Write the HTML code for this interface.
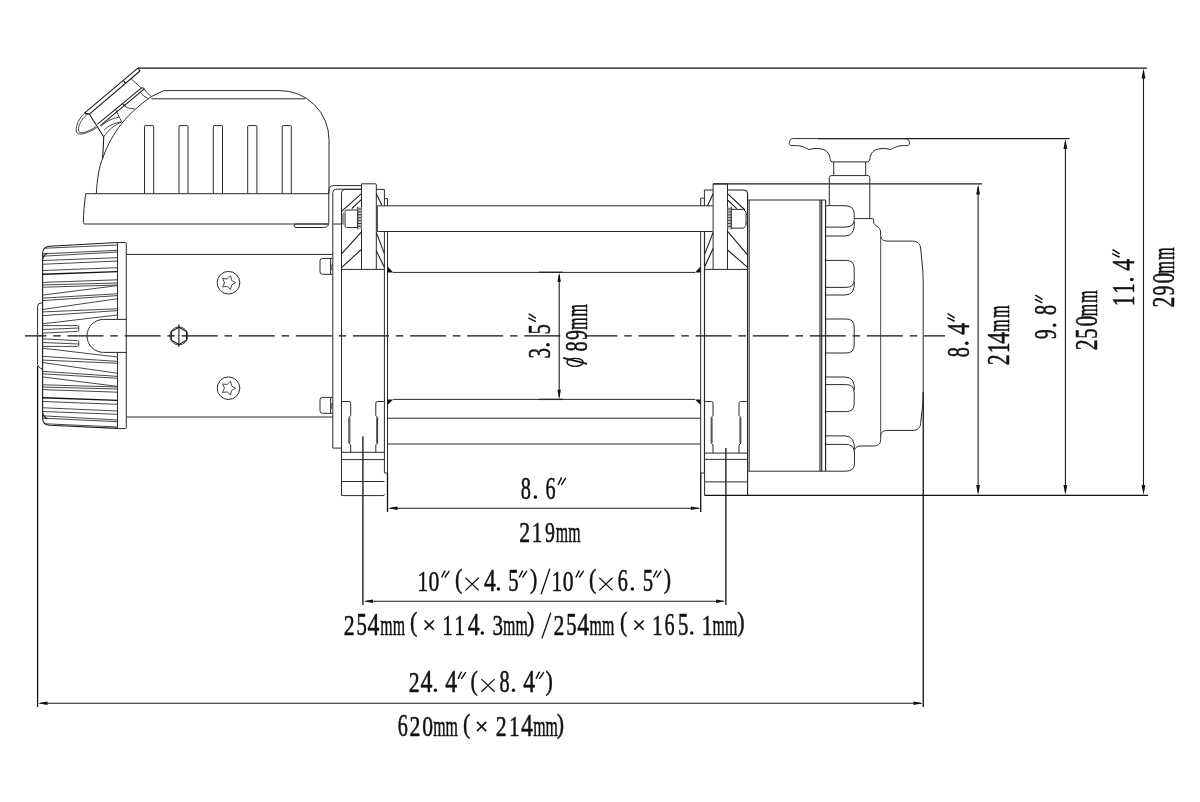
<!DOCTYPE html>
<html><head><meta charset="utf-8"><title>Winch dimensions</title>
<style>
html,body{margin:0;padding:0;background:#fff;}
body{width:1200px;height:802px;overflow:hidden;font-family:"Liberation Serif",serif;}
svg{display:block;position:absolute;left:0;top:0;}
.l{fill:none;stroke:#2a2a2a;stroke-width:1;}
.m{fill:none;stroke:#333;stroke-width:0.9;}
.k{fill:none;stroke:#111;stroke-width:1.3;}
.d{fill:none;stroke:#1c1c1c;stroke-width:1.1;}
.c{fill:none;stroke:#111;stroke-width:1.25;stroke-dasharray:36 6.8 7.5 6.8;}
.f{fill:#111;stroke:none;}
.g{fill:#999;stroke:none;}
.g2{fill:#c4c4c4;stroke:none;}
.w{fill:#fff;stroke:#2a2a2a;stroke-width:1;}
.t{font-family:"Liberation Serif",serif;font-size:30.5px;fill:#111;text-anchor:middle;stroke:#111;stroke-width:0.45px;vector-effect:non-scaling-stroke;paint-order:stroke fill;stroke-linejoin:round;}
.tp{fill:none;stroke:#111;stroke-width:1.45;stroke-linecap:round;}
.tk{fill:none;stroke:#111;stroke-width:1.35;}
.tx{fill:none;stroke:#111;stroke-width:1.3;}
.txs{fill:none;stroke:#111;stroke-width:1.7;}
</style></head>
<body>
<svg width="1200" height="802" viewBox="0 0 1200 802">
<rect x="0" y="0" width="1200" height="802" fill="#ffffff"/>
<g id="drawing">
<path class="k" d="M137.8,68.1L1147,68.1"/>
<path class="k" d="M704.6,495.4L1148,495.4"/>
<path class="d" d="M818,138.6L1069.5,138.6"/>
<path class="d" d="M713,183.9L982,183.9"/>
<path class="d" d="M1143.5,71.1L1143.5,492"/>
<path class="f" d="M1143.50,68.60L1141.60,78.60L1145.40,78.60Z"/>
<path class="f" d="M1143.50,495.00L1141.60,485.00L1145.40,485.00Z"/>
<path class="d" d="M1065.4,141.6L1065.4,492"/>
<path class="f" d="M1065.40,139.10L1063.50,149.10L1067.30,149.10Z"/>
<path class="f" d="M1065.40,495.00L1063.50,485.00L1067.30,485.00Z"/>
<path class="d" d="M978.1,186.9L978.1,492"/>
<path class="f" d="M978.10,184.40L976.20,194.40L980.00,194.40Z"/>
<path class="f" d="M978.10,495.00L976.20,485.00L980.00,485.00Z"/>
<path class="d" d="M559.2,275L559.2,397"/>
<path class="f" d="M559.20,272.60L557.50,282.10L560.90,282.10Z"/>
<path class="f" d="M559.20,399.20L557.50,389.70L560.90,389.70Z"/>
<path class="k" d="M539,272.3L563,272.3"/>
<path class="k" d="M539,399.4L563,399.4"/>
<path class="d" d="M390,508.2L699,508.2"/>
<path class="f" d="M388.00,508.20L397.50,506.50L397.50,509.90Z"/>
<path class="f" d="M700.30,508.20L690.80,506.50L690.80,509.90Z"/>
<path class="d" d="M366,601.2L723,601.2"/>
<path class="f" d="M363.40,601.20L372.90,599.50L372.90,602.90Z"/>
<path class="f" d="M725.60,601.20L716.10,599.50L716.10,602.90Z"/>
<path class="d" d="M40,703.3L921,703.3"/>
<path class="f" d="M38.00,703.30L47.50,701.60L47.50,705.00Z"/>
<path class="f" d="M923.00,703.30L913.50,701.60L913.50,705.00Z"/>
<path class="k" d="M37.6,366L37.6,707"/>
<path class="k" d="M923.25,392L923.25,707"/>
<path class="k" d="M362.9,436.3L362.9,605"/>
<path class="k" d="M725.9,448L725.9,605"/>
<path class="k" d="M387.5,473L387.5,512"/>
<path class="k" d="M700.7,473L700.7,512"/>
<path class="c" stroke-dashoffset="14.60" d="M25,335.9H560.5"/>
<path class="c" stroke-dashoffset="3.10" d="M584.5,335.9H945"/>
<path class="l" d="M96.3,193.7C97,180 99,167 102.5,158.7C106,149 111,138 118.7,127.5C127,116 138,106 151.3,96.6L163.7,90.6H280A49,49 0 0 1 329,139.6V193.7"/>
<path class="l" d="M151.3,98.8H305"/>
<path class="l" d="M144.5,193.7V126.3Q144.5,125.6 145.2,125.6H153.0Q153.7,125.6 153.7,126.3V193.7"/>
<path class="l" d="M179,193.7V126.3Q179,125.6 179.7,125.6H187.3Q188,125.6 188,126.3V193.7"/>
<path class="l" d="M213.3,193.7V126.3Q213.3,125.6 214.0,125.6H221.8Q222.5,125.6 222.5,126.3V193.7"/>
<path class="l" d="M247.7,193.7V126.3Q247.7,125.6 248.39999999999998,125.6H256.2Q256.9,125.6 256.9,126.3V193.7"/>
<path class="l" d="M282.2,193.7V126.3Q282.2,125.6 282.9,125.6H290.6Q291.3,125.6 291.3,126.3V193.7"/>
<path class="l" d="M85.7,193.7H329M85.7,193.7C84.3,203 83.5,214 83.3,222.7Q83.4,224 84.8,224H328.7"/>
<path class="d" d="M137.8,68.1L84.4,113.1M140,71L89.4,114.1M137.8,68.1L140,71M123.7,80.5L125.3,83.3M84.4,113.1L89.4,114.1"/>
<path class="m" d="M131.2,78.8L141.5,88.2"/>
<path class="d" d="M89.1,113.8L103.7,136.8C103.5,145 103,152 102.5,158.7"/>
<path class="m" d="M84.5,113.2C79.5,117.5 75.8,125 76.2,131C76.8,137 88,133.5 96.9,127.5"/>
<path class="m" d="M86.3,115.2C81.5,119 78,126 78.4,130.5C79.2,135.3 88.5,131.8 96.4,126.4M84.5,113.2Q86,116 89.1,113.8"/>
<path class="d" d="M141.5,87.8L97.5,124.2"/>
<path class="d" d="M141.5,87.8Q143.3,87.3 144.3,89L100.3,125.6"/>
<path class="m" d="M144.3,89Q146,92.5 151.3,96.6"/>
<path class="m" d="M139.8,91.8Q143,96.5 148.5,98.6M122.3,103.8Q126,109 134.5,108.8M115.5,109L121.6,121.9M122.2,103.7L125.6,105.4"/>
<path class="m" d="M101.4,125.9Q108,119.3 118.6,117.2M104.2,129.8Q111,123.3 121.6,121.9M121.6,121.9Q110,127 103.7,136.8"/>
<path class="l" d="M361.5,185.6H334Q328.8,185.6 328.8,191V222.5Q328.8,227.5 323.5,227.5H296Q294.2,227.5 294.2,225.7Q294.2,224 296,224H328.7"/>
<path class="l" d="M361.5,189.2H336Q332.8,189.2 332.8,192.5V448.1H341.5"/>
<path class="l" d="M332.8,224H341.5"/>
<path class="d" d="M117.5,242.5L49.5,246.2Q42.6,246.8 42.6,253.5V418.5Q42.6,424.6 49.5,425.2L117.5,428.4"/>
<path class="l" d="M117.5,242.5H125.3Q126.3,242.5 126.3,243.5V427.6Q126.3,428.6 125.3,428.6H117.5M117.5,242.5V319.4M117.5,352.4V428.6"/>
<path class="l" d="M126.3,319.4H103.5A16.5,16.5 0 0 0 103.5,352.4H126.3"/>
<path class="l" d="M42.6,303H41Q37.6,303 37.6,306.5V364Q38,368 42.6,368.8"/>
<clipPath id="kc"><path d="M117.5,242.5L49.5,246.2Q42.6,246.8 42.6,253.5V418.5Q42.6,424.6 49.5,425.2L117.5,428.4Z"/></clipPath>
<g clip-path="url(#kc)">
<path class="m" d="M43,248.3L117.5,245"/>
<path class="m" d="M43,423.7L117.5,427.0"/>
<path class="m" d="M43,253.8L117.5,250.3"/>
<path class="m" d="M43,418.2L117.5,421.7"/>
<path class="m" d="M43,256.2L117.5,252"/>
<path class="m" d="M43,415.8L117.5,420.0"/>
<path class="m" d="M43,260.5L117.5,257.7"/>
<path class="m" d="M43,411.5L117.5,414.3"/>
<path class="m" d="M43,264.25L117.5,261"/>
<path class="m" d="M43,407.75L117.5,411.0"/>
<path class="m" d="M43,270.5L117.5,267.7"/>
<path class="m" d="M43,401.5L117.5,404.3"/>
<path class="m" d="M43,282.4L117.5,279.8"/>
<path class="m" d="M43,389.6L117.5,392.2"/>
<path class="m" d="M43,284.9L117.5,283"/>
<path class="m" d="M43,387.1L117.5,389.0"/>
<path class="m" d="M43,287.2L117.5,285"/>
<path class="m" d="M43,384.8L117.5,387.0"/>
<path class="m" d="M43,295L117.5,285.6"/>
<path class="m" d="M43,377.0L117.5,386.4"/>
<path class="m" d="M43,298.1L117.5,293.75"/>
<path class="m" d="M43,373.9L117.5,378.25"/>
<path class="m" d="M43,300.6L117.5,295.6"/>
<path class="m" d="M43,371.4L117.5,376.4"/>
<path class="m" d="M43,309.4L117.5,298.75"/>
<path class="m" d="M43,362.6L117.5,373.25"/>
<path class="m" d="M43,311.9L117.5,308.75"/>
<path class="m" d="M43,360.1L117.5,363.25"/>
<path class="m" d="M43,315.6L117.5,310.6"/>
<path class="m" d="M43,356.4L117.5,361.4"/>
<path class="m" d="M43,323.75L117.5,315"/>
<path class="m" d="M43,348.25L117.5,357.0"/>
<path class="k" d="M43,274.25L117.5,271.6"/>
<path class="k" d="M43,397.75L117.5,400.4"/>
<path class="d" d="M42.6,259.3Q43.5,254.5 47.5,253.4M42.6,412.7Q43.5,417.5 47.5,418.6"/>
</g>
<path class="m" d="M43,325.6H77.5Q78.8,325.6 78.8,327V330Q78.8,331.3 77.5,331.4L43,333.1M43,329.5L78.8,328"/>
<path class="m" d="M43,346.4H77.5Q78.8,346.4 78.8,345V342Q78.8,340.7 77.5,340.6L43,338.9M43,342.5L78.8,344"/>
<path class="l" d="M126.3,254.4H332.8M126.3,417H332.8"/>
<circle class="l" cx="228.5" cy="282.7" r="11.3"/>
<path class="m" d="M235.60,282.70L231.56,284.99L230.62,289.55L227.19,286.41L222.58,286.93L224.50,282.70L222.58,278.47L227.19,278.99L230.62,275.85L231.56,280.41Z"/>
<circle class="l" cx="228.5" cy="388.2" r="11.3"/>
<path class="m" d="M235.60,388.20L231.56,390.49L230.62,395.05L227.19,391.91L222.58,392.43L224.50,388.20L222.58,383.97L227.19,384.49L230.62,381.35L231.56,385.91Z"/>
<circle class="m" cx="178.9" cy="335.9" r="9"/>
<path class="d" d="M178.90,344.60L171.37,340.25L171.37,331.55L178.90,327.20L186.43,331.55L186.43,340.25Z"/>
<path class="d" d="M178.9,324.3L178.9,347.1"/>
<path class="l" d="M332.8,258.4H322.5Q320,258.4 320,260.9V271.79999999999995Q320,274.29999999999995 322.5,274.29999999999995H332.8M330.6,258.4V274.29999999999995"/>
<path class="m" d="M330.8,267.4L332.6,263.4M330.8,270.4L332.6,266.4"/>
<path class="l" d="M332.8,397.4H322.5Q320,397.4 320,399.9V410.79999999999995Q320,413.29999999999995 322.5,413.29999999999995H332.8M330.6,397.4V413.29999999999995"/>
<path class="m" d="M330.8,406.4L332.6,402.4M330.8,409.4L332.6,405.4"/>
<path class="l" d="M341.5,495.6V193.5Q341.7,189.4 345.5,189.4H361.5"/>
<path class="l" d="M361.5,269.4V183.8H375.3Q376.3,183.8 376.3,184.8V269.4"/>
<path class="l" d="M376.3,189.4H384.4V205.7M384.4,198.7H387.5V205.7"/>
<path class="l" d="M384.4,231.5V473H387.5M387.5,231.5V473"/>
<path class="l" d="M341.5,269.4H384.4"/>
<path class="d" d="M341.8,211.2L361.5,193.7M351.8,208.7L361.5,199.3M341.8,253.6L361.5,231.8M341.8,267.3L361.5,249.3"/>
<path class="d" d="M376.3,193.7L381.8,205M376.3,232.4L384.4,253.6M376.3,251.1L384.4,267.3"/>
<rect class="g2" x="357.6" y="206.8" width="3.9" height="22.5"/>
<path class="m" d="M357.6,206.8V229.3"/>
<path class="m" d="M357.8,209.0H361.3M357.8,211.9H361.3M357.8,214.8H361.3M357.8,217.7H361.3M357.8,220.6H361.3M357.8,223.5H361.3M357.8,226.4H361.3"/>
<rect class="w" x="345" y="210" width="12.6" height="17.6" rx="1.5"/>
<path class="g" d="M342,213.5L345,211.5V226L342,224Z"/>
<path class="f" d="M387.5,266.2V272.4H393.2Z"/>
<path class="f" d="M387.5,405V399.4H393.2Z"/>
<path class="f" d="M700.7,266.2V272.4H695Z"/>
<path class="f" d="M700.7,405V399.4H695Z"/>
<path class="l" d="M341.5,401.5H349.2Q350.7,401.5 350.7,403V415.5L348.9,417.5V443L350.7,445V452.3"/>
<path class="l" d="M384.4,401.5H377.3Q375.8,401.5 375.8,403V415.5L377.6,417.5V443L375.8,445V452.3"/>
<path class="m" d="M349.9,417.5V443M376.7,417.5V443"/>
<path class="l" d="M341.5,452.3H384.4M341.5,459.6H384.4M341.5,481.5H384.4M341.5,494.3Q341.5,495.6 342.8,495.6H383.1Q384.4,495.6 384.4,494.3"/>
<path class="l" d="M377.3,205.8H712.6M377.3,231.5H712.6M377.3,205.8V231.5"/>
<path class="l" d="M387.5,418.2H700.7M387.5,444H700.7"/>
<path class="l" d="M393.2,272.4H695M393.2,399.4H695"/>
<path class="l" d="M713.1,269.4V183.9H727.5V269.4"/>
<path class="l" d="M713.1,190H704.4V206M704.4,198.1H700.7V206"/>
<path class="l" d="M700.7,231.5V473M704.4,231.5V473H700.7"/>
<path class="d" d="M727.5,190H743.5Q747.6,190 747.6,194V495.4"/>
<path class="l" d="M747.6,200H825.6M749.2,200V471.2"/>
<path class="l" d="M704.4,269.4H747.6"/>
<path class="d" d="M727.5,193.7L745,210M727.5,200L736.8,208.7M727.5,231.3L747.6,254.9M727.5,250L747.6,267.3"/>
<path class="d" d="M707.5,205.8L713.1,193.7M704.4,254.9L713.1,232.4M704.4,267.3L713.1,248.6"/>
<rect class="g2" x="727.7" y="206.8" width="3.9" height="22.5"/>
<path class="m" d="M731.6,206.8V229.3"/>
<path class="m" d="M727.9,209.0H731.4M727.9,211.9H731.4M727.9,214.8H731.4M727.9,217.7H731.4M727.9,220.6H731.4M727.9,223.5H731.4M727.9,226.4H731.4"/>
<path class="w" d="M731.3,209.4H743.5L746,212V225.5L743.5,228.1H731.3Z"/>
<path class="m" d="M746,214.5H747.6M746,223H747.6"/>
<path class="l" d="M704.4,401.6H711.5Q713,401.6 713,403.1V415.5L711.2,417.5V443L713,445V453.1"/>
<path class="l" d="M747.6,401.6H740.5Q739,401.6 739,403.1V415.5L740.8,417.5V443L739,445V453.1"/>
<path class="m" d="M712.1,417.5V443M739.9,417.5V443"/>
<path class="l" d="M704.6,495.4V231.5"/>
<path class="l" d="M704.6,453.1H747.6M704.6,459.4H747.6M704.6,481.9H747.6"/>
<path class="l" d="M748.3,471.2H825.5"/>
<path class="d" d="M820,200V471.2M821.7,200V471.2M825.6,200V471.2"/>
<path class="l" d="M825.6,205.7H845Q854.2,205.7 854.2,214V219.5Q854.2,227.1 845,227.1H825.6"/>
<path class="l" d="M854.4,222Q855,236 845,236H825.6"/>
<path class="l" d="M825.6,260.4H846.2Q854.2,260.4 854.2,268.4V279.4Q854.2,287.4 846.2,287.4H825.6"/>
<path class="l" d="M854.4,282Q855,295 845,295H825.6"/>
<path class="l" d="M825.6,319H846.2Q854.2,319 854.2,327V345Q854.2,353 846.2,353H825.6"/>
<path class="l" d="M825.6,384.6H846.2Q854.2,384.6 854.2,392.6V403.6Q854.2,411.6 846.2,411.6H825.6"/>
<path class="l" d="M854.4,390Q855,377 845,377H825.6"/>
<path class="l" d="M825.6,444.4H846Q854.5,444.4 854.5,453V463Q854.5,471.2 846,471.2H825.6"/>
<path class="l" d="M854.4,450Q855,435.9 845,435.9H825.6"/>
<path class="l" d="M854.4,218.6H872.5Q873.7,218.6 873.7,219.8V222C873.7,226.5 880.4,226 880.6,232V235.4C880.8,239.5 883.5,241.1 888,241.1H912.5C917.5,241.1 920.2,244 920.6,248L922.6,268C923,274 923.2,280 923.2,288V390C923.2,396 923,401 922.6,406L920.6,423.5C920.2,428 917.5,430.4 913,430.4H888C883.5,430.4 880.8,432 880.7,436V439.5C880.5,444 878,446 873.5,446H861C857.5,446 855.5,447.5 854.1,450.2"/>
<path class="m" d="M880.7,236.5V435.5"/>
<path class="l" d="M829.3,205.7V177.5Q829.3,175.6 831.2,175.6H867.9Q869.8,175.6 869.8,177.5V218.7"/>
<path class="l" d="M833.7,175.6V161.9M865.7,175.6V161.9"/>
<path class="l" d="M792.5,138.6H906.2C909.2,139 909.8,142.5 909.3,144.5Q908.8,145.8 907,145.7C900,145 896,146.5 890.6,149.6C886,148 880,148 875,150C871.5,152 870.4,155.5 869.9,158.5Q869.7,161.9 867.5,161.9H832.3Q830.3,161.9 830,158.5C829.5,155.5 828.5,152 825,150C820,148 814,148 808.8,149.6C803.5,146.5 799,145 791.5,145.7Q790,145.8 789.5,144.5C789,142.5 789.5,139 792.5,138.6Z"/>
</g>
<g id="labels" style="opacity:0.999">
<g aria-label="8.6″" transform="translate(0,498.8) scale(1,1.06)">
<text class="t" transform="translate(525.70,0) scale(0.665,1)">8</text>
<circle class="f" cx="535.40" cy="-1.7" r="1.75"/>
<text class="t" transform="translate(550.60,0) scale(0.66,1)">6</text>
<path class="tp" d="M561.40,-19.7L558.30,-13.6M565.50,-19.3L561.70,-13.6"/>
</g>
<g aria-label="219mm" transform="translate(0,541.8) scale(1,1.0)">
<text class="t" transform="translate(524.70,0) scale(0.715,1)">2</text>
<text class="t" transform="translate(537.20,0) scale(0.7,1)">1</text>
<text class="t" transform="translate(550.10,0) scale(0.655,1)">9</text>
<text class="t" transform="translate(561.80,0) scale(0.52,1)">m</text>
<text class="t" transform="translate(574.30,0) scale(0.52,1)">m</text>
</g>
<g aria-label="10″(×4.5″)/10″(×6.5″)" transform="translate(0,590.6) scale(1,1.0)">
<text class="t" transform="translate(422.80,0) scale(0.7,1)">1</text>
<text class="t" transform="translate(433.90,0) scale(0.71,1)">0</text>
<path class="tp" d="M444.90,-19.7L441.80,-13.6M449.00,-19.3L445.20,-13.6"/>
<text class="t" transform="translate(458.70,-2.30) scale(0.72,0.92)">(</text>
<path class="tx" d="M465.50,-12.80L478.70,-0.20M465.50,-0.20L478.70,-12.80"/>
<text class="t" transform="translate(489.90,0) scale(0.78,1)">4</text>
<circle class="f" cx="498.40" cy="-1.7" r="1.75"/>
<text class="t" transform="translate(513.50,0) scale(0.68,1)">5</text>
<path class="tp" d="M522.50,-19.7L519.40,-13.6M526.60,-19.3L522.80,-13.6"/>
<text class="t" transform="translate(533.70,-2.30) scale(0.72,0.92)">)</text>
<path class="tk" d="M541.10,3.6L549.90,-22"/>
<text class="t" transform="translate(556.90,0) scale(0.7,1)">1</text>
<text class="t" transform="translate(568.25,0) scale(0.71,1)">0</text>
<path class="tp" d="M579.20,-19.7L576.10,-13.6M583.30,-19.3L579.50,-13.6"/>
<text class="t" transform="translate(592.75,-2.30) scale(0.72,0.92)">(</text>
<path class="tx" d="M599.30,-12.80L612.50,-0.20M599.30,-0.20L612.50,-12.80"/>
<text class="t" transform="translate(622.80,0) scale(0.66,1)">6</text>
<circle class="f" cx="632.40" cy="-1.7" r="1.75"/>
<text class="t" transform="translate(647.90,0) scale(0.68,1)">5</text>
<path class="tp" d="M656.80,-19.7L653.70,-13.6M660.90,-19.3L657.10,-13.6"/>
<text class="t" transform="translate(667.40,-2.30) scale(0.72,0.92)">)</text>
</g>
<g aria-label="254mm(×114.3mm)/254mm(×165.1mm)" transform="translate(0,634.8) scale(1,1.0)">
<text class="t" transform="translate(349.30,0) scale(0.715,1)">2</text>
<text class="t" transform="translate(361.80,0) scale(0.68,1)">5</text>
<text class="t" transform="translate(373.50,0) scale(0.78,1)">4</text>
<text class="t" transform="translate(386.30,0) scale(0.52,1)">m</text>
<text class="t" transform="translate(398.90,0) scale(0.52,1)">m</text>
<text class="t" transform="translate(413.60,-3.60) scale(0.72,0.92)">(</text>
<path class="txs" d="M424.60,-14.30L433.80,-5.10M424.60,-5.10L433.80,-14.30"/>
<text class="t" transform="translate(447.60,0) scale(0.7,1)">1</text>
<text class="t" transform="translate(459.60,0) scale(0.7,1)">1</text>
<text class="t" transform="translate(473.60,0) scale(0.78,1)">4</text>
<circle class="f" cx="482.30" cy="-1.7" r="1.75"/>
<text class="t" transform="translate(497.80,0) scale(0.69,1)">3</text>
<text class="t" transform="translate(509.20,0) scale(0.52,1)">m</text>
<text class="t" transform="translate(521.70,0) scale(0.52,1)">m</text>
<text class="t" transform="translate(530.75,-3.60) scale(0.72,0.92)">)</text>
<path class="tk" d="M542.00,3.6L550.80,-22"/>
<text class="t" transform="translate(558.90,0) scale(0.715,1)">2</text>
<text class="t" transform="translate(571.50,0) scale(0.68,1)">5</text>
<text class="t" transform="translate(583.10,0) scale(0.78,1)">4</text>
<text class="t" transform="translate(595.70,0) scale(0.52,1)">m</text>
<text class="t" transform="translate(608.20,0) scale(0.52,1)">m</text>
<text class="t" transform="translate(623.75,-3.60) scale(0.72,0.92)">(</text>
<path class="txs" d="M634.45,-14.30L643.65,-5.10M634.45,-5.10L643.65,-14.30"/>
<text class="t" transform="translate(657.30,0) scale(0.7,1)">1</text>
<text class="t" transform="translate(669.60,0) scale(0.66,1)">6</text>
<text class="t" transform="translate(683.30,0) scale(0.68,1)">5</text>
<circle class="f" cx="691.75" cy="-1.7" r="1.75"/>
<text class="t" transform="translate(707.20,0) scale(0.7,1)">1</text>
<text class="t" transform="translate(718.60,0) scale(0.52,1)">m</text>
<text class="t" transform="translate(731.10,0) scale(0.52,1)">m</text>
<text class="t" transform="translate(741.00,-3.60) scale(0.72,0.92)">)</text>
</g>
<g aria-label="24.4″(×8.4″)" transform="translate(0,691.9) scale(1,1.0)">
<text class="t" transform="translate(414.10,0) scale(0.715,1)">2</text>
<text class="t" transform="translate(426.50,0) scale(0.78,1)">4</text>
<circle class="f" cx="435.35" cy="-1.7" r="1.75"/>
<text class="t" transform="translate(451.25,0) scale(0.78,1)">4</text>
<path class="tp" d="M461.35,-19.7L458.25,-13.6M465.45,-19.3L461.65,-13.6"/>
<text class="t" transform="translate(474.10,-2.30) scale(0.72,0.92)">(</text>
<path class="tx" d="M481.40,-12.80L494.60,-0.20M481.40,-0.20L494.60,-12.80"/>
<text class="t" transform="translate(504.50,0) scale(0.665,1)">8</text>
<circle class="f" cx="513.50" cy="-1.7" r="1.75"/>
<text class="t" transform="translate(529.25,0) scale(0.78,1)">4</text>
<path class="tp" d="M539.35,-19.7L536.25,-13.6M543.45,-19.3L539.65,-13.6"/>
<text class="t" transform="translate(549.10,-2.30) scale(0.72,0.92)">)</text>
</g>
<g aria-label="620mm(×214mm)" transform="translate(0,736.2) scale(1,1.0)">
<text class="t" transform="translate(402.90,0) scale(0.66,1)">6</text>
<text class="t" transform="translate(414.90,0) scale(0.715,1)">2</text>
<text class="t" transform="translate(427.60,0) scale(0.71,1)">0</text>
<text class="t" transform="translate(439.50,0) scale(0.52,1)">m</text>
<text class="t" transform="translate(451.60,0) scale(0.52,1)">m</text>
<text class="t" transform="translate(466.60,-3.60) scale(0.72,0.92)">(</text>
<path class="txs" d="M477.00,-14.30L486.20,-5.10M477.00,-5.10L486.20,-14.30"/>
<text class="t" transform="translate(501.10,0) scale(0.715,1)">2</text>
<text class="t" transform="translate(514.25,0) scale(0.7,1)">1</text>
<text class="t" transform="translate(526.85,0) scale(0.78,1)">4</text>
<text class="t" transform="translate(539.40,0) scale(0.52,1)">m</text>
<text class="t" transform="translate(551.75,0) scale(0.52,1)">m</text>
<text class="t" transform="translate(560.40,-3.60) scale(0.72,0.92)">)</text>
</g>
<g aria-label="3.5″" transform="translate(549.7,0) rotate(-90) scale(1,1.06)">
<text class="t" transform="translate(-353.30,0) scale(0.69,1)">3</text>
<circle class="f" cx="-344.80" cy="-1.7" r="1.75"/>
<text class="t" transform="translate(-329.40,0) scale(0.68,1)">5</text>
<path class="tp" d="M-318.20,-19.7L-321.30,-13.6M-314.10,-19.3L-317.90,-13.6"/>
</g>
<g aria-label="Ø89mm" transform="translate(586.75,0) rotate(-90) scale(1,1.06)">
<ellipse class="tk" cx="-362.30" cy="-11" rx="4.0" ry="7.6"/>
<path class="txs" d="M-363.90,0.3L-357.90,-22.2"/>
<text class="t" transform="translate(-346.40,0) scale(0.665,1)">8</text>
<text class="t" transform="translate(-335.00,0) scale(0.655,1)">9</text>
<text class="t" transform="translate(-323.60,0) scale(0.52,1)">m</text>
<text class="t" transform="translate(-310.40,0) scale(0.52,1)">m</text>
</g>
<g aria-label="8.4″" transform="translate(968.6,0) rotate(-90) scale(1,1.06)">
<text class="t" transform="translate(-352.25,0) scale(0.665,1)">8</text>
<circle class="f" cx="-343.25" cy="-1.7" r="1.75"/>
<text class="t" transform="translate(-328.70,0) scale(0.78,1)">4</text>
<path class="tp" d="M-317.90,-19.7L-321.00,-13.6M-313.80,-19.3L-317.60,-13.6"/>
</g>
<g aria-label="214mm" transform="translate(1008.9,0) rotate(-90) scale(1,1.06)">
<text class="t" transform="translate(-359.70,0) scale(0.715,1)">2</text>
<text class="t" transform="translate(-348.00,0) scale(0.7,1)">1</text>
<text class="t" transform="translate(-337.70,0) scale(0.78,1)">4</text>
<text class="t" transform="translate(-325.50,0) scale(0.52,1)">m</text>
<text class="t" transform="translate(-311.70,0) scale(0.52,1)">m</text>
</g>
<g aria-label="9.8″" transform="translate(1056.3,0) rotate(-90) scale(1,1.06)">
<text class="t" transform="translate(-334.30,0) scale(0.655,1)">9</text>
<circle class="f" cx="-325.30" cy="-1.7" r="1.75"/>
<text class="t" transform="translate(-309.90,0) scale(0.665,1)">8</text>
<path class="tp" d="M-299.50,-19.7L-302.60,-13.6M-295.40,-19.3L-299.20,-13.6"/>
</g>
<g aria-label="250mm" transform="translate(1097.0,0) rotate(-90) scale(1,1.06)">
<text class="t" transform="translate(-344.90,0) scale(0.715,1)">2</text>
<text class="t" transform="translate(-333.50,0) scale(0.68,1)">5</text>
<text class="t" transform="translate(-321.10,0) scale(0.71,1)">0</text>
<text class="t" transform="translate(-310.00,0) scale(0.52,1)">m</text>
<text class="t" transform="translate(-296.70,0) scale(0.52,1)">m</text>
</g>
<g aria-label="11.4″" transform="translate(1133.6,0) rotate(-90) scale(1,1.06)">
<text class="t" transform="translate(-301.00,0) scale(0.7,1)">1</text>
<text class="t" transform="translate(-288.50,0) scale(0.7,1)">1</text>
<circle class="f" cx="-279.50" cy="-1.7" r="1.75"/>
<text class="t" transform="translate(-264.70,0) scale(0.78,1)">4</text>
<path class="tp" d="M-253.90,-19.7L-257.00,-13.6M-249.80,-19.3L-253.60,-13.6"/>
</g>
<g aria-label="290mm" transform="translate(1174.4,0) rotate(-90) scale(1,1.06)">
<text class="t" transform="translate(-302.00,0) scale(0.715,1)">2</text>
<text class="t" transform="translate(-290.40,0) scale(0.655,1)">9</text>
<text class="t" transform="translate(-278.20,0) scale(0.71,1)">0</text>
<text class="t" transform="translate(-267.30,0) scale(0.52,1)">m</text>
<text class="t" transform="translate(-253.50,0) scale(0.52,1)">m</text>
</g>
</g>
</svg>
</body></html>
